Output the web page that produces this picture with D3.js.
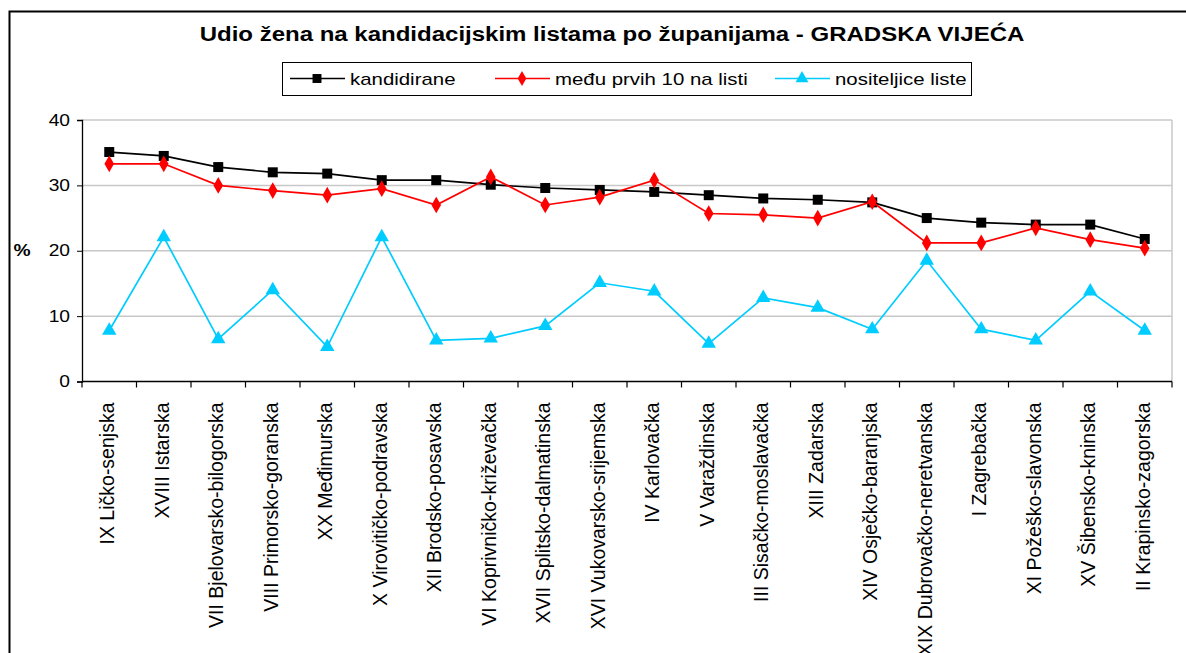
<!DOCTYPE html>
<html>
<head>
<meta charset="utf-8">
<script src="https://cdn.jsdelivr.net/npm/d3@7"></script>
<style>
  body { margin: 0; background: #fff; }
  svg { display: block; font-family: Arial, "Liberation Sans", sans-serif; }
</style>
</head>
<body>
<svg id="chart" width="1186" height="653"></svg>
<script>
var zupanije = ["IX Ličko-senjska", "XVIII Istarska", "VII Bjelovarsko-bilogorska", "VIII Primorsko-goranska",
  "XX Međimurska", "X Virovitičko-podravska", "XII Brodsko-posavska", "VI Koprivničko-križevačka",
  "XVII Splitsko-dalmatinska", "XVI Vukovarsko-srijemska", "IV Karlovačka", "V Varaždinska",
  "III Sisačko-moslavačka", "XIII Zadarska", "XIV Osječko-baranjska", "XIX Dubrovačko-neretvanska",
  "I Zagrebačka", "XI Požeško-slavonska", "XV Šibensko-kninska", "II Krapinsko-zagorska"]
var kandidirane = [35.1, 34.5, 32.8, 32.0, 31.8, 30.8, 30.8, 30.1, 29.6, 29.3, 29.0, 28.5, 28.0, 27.8, 27.4, 25.0, 24.3, 24.0, 24.0, 21.8]
var medjuPrvih10 = [33.3, 33.3, 30.0, 29.2, 28.5, 29.5, 27.0, 31.3, 27.0, 28.2, 30.8, 25.7, 25.5, 25.0, 27.5, 21.2, 21.2, 23.5, 21.7, 20.4]
var nositeljice = [7.8, 22.1, 6.5, 14.0, 5.3, 22.1, 6.3, 6.6, 8.5, 15.1, 13.8, 5.8, 12.8, 11.3, 8.0, 18.5, 8.0, 6.3, 13.8, 7.8]
var yTicks = [0, 10, 20, 30, 40]

var series = [
  {name: "kandidirane", values: kandidirane, color: "#000000", symbol: d3.symbolSquare, size: 100},
  {name: "među prvih 10 na listi", values: medjuPrvih10, color: "#ff0000", symbol: d3.symbolDiamond, size: 80},
  {name: "nositeljice liste", values: nositeljice, color: "#00ccff", symbol: d3.symbolTriangle, size: 90}
]

// the source picture is stretched sideways, so horizontal text gets widened
var stretch = 1.2
function widen(sel) {
  sel.each(function() {
    var len = this.getComputedTextLength()
    d3.select(this).attr("textLength", len * stretch).attr("lengthAdjust", "spacingAndGlyphs")
  })
}

var svg = d3.select("#chart")

// outer frame (runs off the right and bottom edge)
svg.append("rect")
  .attr("x", 9.5).attr("y", 11.5)
  .attr("width", 1300).attr("height", 800)
  .attr("fill", "none").attr("stroke", "#000").attr("stroke-width", 2)

svg.append("text")
  .attr("x", 612).attr("y", 41)
  .attr("text-anchor", "middle")
  .attr("font-weight", "bold").attr("font-size", 20)
  .text("Udio žena na kandidacijskim listama po županijama - GRADSKA VIJEĆA")
  .call(widen)

var plot = {left: 82, right: 1172, top: 120, bottom: 381.5}

var x = d3.scaleBand().domain(zupanije).range([plot.left, plot.right])
var y = d3.scaleLinear().domain([0, 40]).range([plot.bottom, plot.top])
var cx = function(d) { return x(d) + x.bandwidth() / 2 }

// gridlines
svg.append("g").selectAll("line")
  .data(yTicks.slice(1))
  .enter().append("line")
  .attr("x1", plot.left).attr("x2", plot.right)
  .attr("y1", function(d) { return y(d) }).attr("y2", function(d) { return y(d) })
  .attr("stroke", "#c8c8c8").attr("stroke-width", 1.5)
svg.append("line")
  .attr("x1", plot.right).attr("x2", plot.right)
  .attr("y1", plot.top).attr("y2", plot.bottom)
  .attr("stroke", "#c8c8c8").attr("stroke-width", 1.5)

// y axis
var yAxis = svg.append("g")
  .attr("transform", "translate(" + plot.left + ",0)")
  .call(d3.axisLeft(y).tickValues(yTicks).tickSize(5).tickPadding(7))
yAxis.select(".domain").attr("stroke", "#000").attr("stroke-width", 1.3)
yAxis.selectAll("text").attr("font-size", 16).attr("fill", "#000")
  .attr("font-family", "Arial, 'Liberation Sans', sans-serif")
  .call(widen)

svg.append("text")
  .attr("x", 22).attr("y", 256)
  .attr("text-anchor", "middle")
  .attr("font-weight", "bold").attr("font-size", 16)
  .text("%")
  .call(widen)

// x axis with ticks between categories
var xAxis = svg.append("g")
xAxis.append("line")
  .attr("x1", plot.left).attr("x2", plot.right)
  .attr("y1", plot.bottom).attr("y2", plot.bottom)
  .attr("stroke", "#000").attr("stroke-width", 1.3)
xAxis.selectAll(".tick")
  .data(zupanije.concat(["end"]))
  .enter().append("line")
  .attr("x1", function(d, i) { return plot.left + i * x.step() })
  .attr("x2", function(d, i) { return plot.left + i * x.step() })
  .attr("y1", plot.bottom).attr("y2", plot.bottom + 6)
  .attr("stroke", "#000").attr("stroke-width", 1.2)
xAxis.selectAll("text")
  .data(zupanije)
  .enter().append("text")
  .attr("transform", function(d) { return "translate(" + (cx(d) + 5) + "," + (plot.bottom + 21) + ") rotate(-90)" })
  .attr("text-anchor", "end")
  .attr("font-size", 19.5)
  .text(function(d) { return d })

// lines and markers
var line = d3.line()
  .x(function(d, i) { return cx(zupanije[i]) })
  .y(function(d) { return y(d) })

series.forEach(function(s) {
  svg.append("path")
    .datum(s.values)
    .attr("d", line)
    .attr("fill", "none")
    .attr("stroke", s.color)
    .attr("stroke-width", 1.7)
  svg.append("g").selectAll("path")
    .data(s.values)
    .enter().append("path")
    .attr("d", d3.symbol().type(s.symbol).size(s.size))
    .attr("transform", function(d, i) { return "translate(" + cx(zupanije[i]) + "," + y(d) + ")" })
    .attr("fill", s.color)
})

// legend
var legend = svg.append("g")
legend.append("rect")
  .attr("x", 282.5).attr("y", 62.5)
  .attr("width", 689).attr("height", 33)
  .attr("fill", "#fff").attr("stroke", "#000").attr("stroke-width", 1)
var legendX = [290, 495, 775]
series.forEach(function(s, i) {
  var g = legend.append("g").attr("transform", "translate(" + legendX[i] + ",78.5)")
  g.append("line").attr("x1", 0).attr("x2", 55).attr("y1", 0).attr("y2", 0)
    .attr("stroke", s.color).attr("stroke-width", 1.6)
  g.append("path").attr("d", d3.symbol().type(s.symbol).size(s.size * 0.8))
    .attr("transform", "translate(27,0)").attr("fill", s.color)
  g.append("text").attr("x", 60).attr("y", 6)
    .attr("font-size", 17)
    .text(s.name)
    .call(widen)
})
</script>
</body>
</html>
